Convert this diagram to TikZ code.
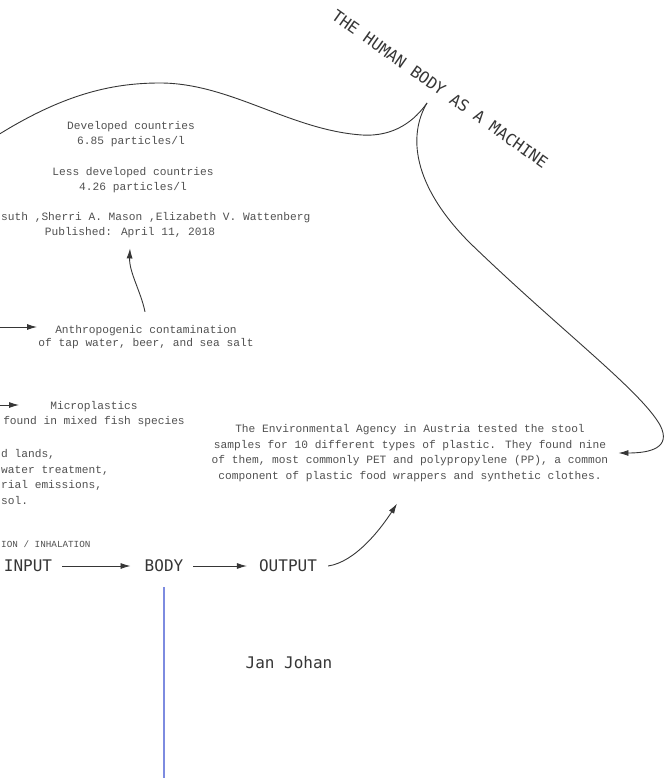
\documentclass[tikz,border=0pt]{standalone}
\usepackage{fontspec}
\usetikzlibrary{arrows.meta,positioning,calc}
\newfontfamily\notefont{Liberation Mono}
\newfontfamily\labelfont{DejaVu Sans Mono}
\definecolor{Ink}{HTML}{363636}
\definecolor{Note}{HTML}{505050}
\definecolor{Lilac}{HTML}{7D8BE0}

\begin{document}
\begin{tikzpicture}[
  x=1pt,y=-1pt,
  note/.style={align=center,inner sep=2pt,text=Note,font=\notefont\fontsize{11.2}{15.5}\selectfont},
  noteleft/.style={note,align=left,anchor=west},
  stage/.style={inner sep=2pt,text=Ink,font=\labelfont\fontsize{16}{18}\selectfont},
  arrow/.style={-{Latex[length=10pt,width=6pt]},draw=Ink,line width=0.9pt},
  curve/.style={draw=Ink,line width=0.9pt}
]
\useasboundingbox (0,0) rectangle (670,778);
\clip (0,0) rectangle (670,778);

% title and the study notes
\node[stage,rotate=-35.3] (title) at (440,89) {THE HUMAN BODY AS A MACHINE};
\node[note] (devd) at (131,134) {Developed countries\\6.85 particles/l};
\node[note] (less) at (133,180) {Less developed countries\\4.26 particles/l};
\node[noteleft] (authors) at (-1,218) {suth ,Sherri A. Mason ,Elizabeth V. Wattenberg};
\node[note] (published) at (130,233) {Published: April 11, 2018};
\node[note,font=\notefont\fontsize{11.2}{13.5}\selectfont] (anthro) at (146,337) {Anthropogenic contamination\\of tap water, beer, and sea salt};
\node[note] (micro) at (94,414) {Microplastics\\found in mixed fish species};
\node[noteleft] (waste) at (-1,477) {d lands,\\water treatment,\\rial emissions,\\sol.};
\node[note] (agency) at (410,453) {The Environmental Agency in Austria tested the stool\\samples for 10 different types of plastic. They found nine\\of them, most commonly PET and polypropylene (PP), a common\\component of plastic food wrappers and synthetic clothes.};

% input - body - output
\node[noteleft,font=\notefont\fontsize{9.3}{11}\selectfont] (intake) at (-1,544) {ION / INHALATION};
\node[stage] (input) at (28,566) {INPUT};
\node[stage] (body) at (164,566) {BODY};
\node[stage] (output) at (288,566) {OUTPUT};
\node[stage] (jan) at (289,663) {Jan Johan};

\coordinate (cusp) at (427,103);
\coordinate (a0) at (-5,327);
\coordinate (m0) at (-5,405);
\coordinate (ground) at (164,790);

\draw[curve] (-10,140) .. controls (60,95) and (110,83) .. (160,83)
  .. controls (230,83) and (290,130) .. (362,135)
  .. controls (395,137) and (415,120) .. (cusp);
\draw[arrow] (cusp) .. controls (408,135) and (412,185) .. (470,243)
  .. controls (560,330) and (640,390) .. (660,425)
  .. controls (672,448) and (650,453) .. ([xshift=8pt]agency.east);

\draw[arrow] (a0) -- (37,327);
\draw[arrow] (m0) -- (19,405);
\draw[arrow] ([xshift=-1pt,yshift=11pt]anthro.north) .. controls (141,292) and (129,272) .. ([yshift=-8pt]published.south);
\draw[arrow,shorten <=8pt,shorten >=12pt] (input) -- (body);
\draw[arrow,shorten <=8pt,shorten >=10pt] (body) -- (output);
\draw[arrow] ([xshift=9pt]output.east) .. controls (355,562) and (380,530) .. ($(agency.south)+(-13,20)$);
\draw[Lilac,line width=1.6pt] ([yshift=-13pt]body.south) -- (body.south |- ground);
\end{tikzpicture}
\end{document}
